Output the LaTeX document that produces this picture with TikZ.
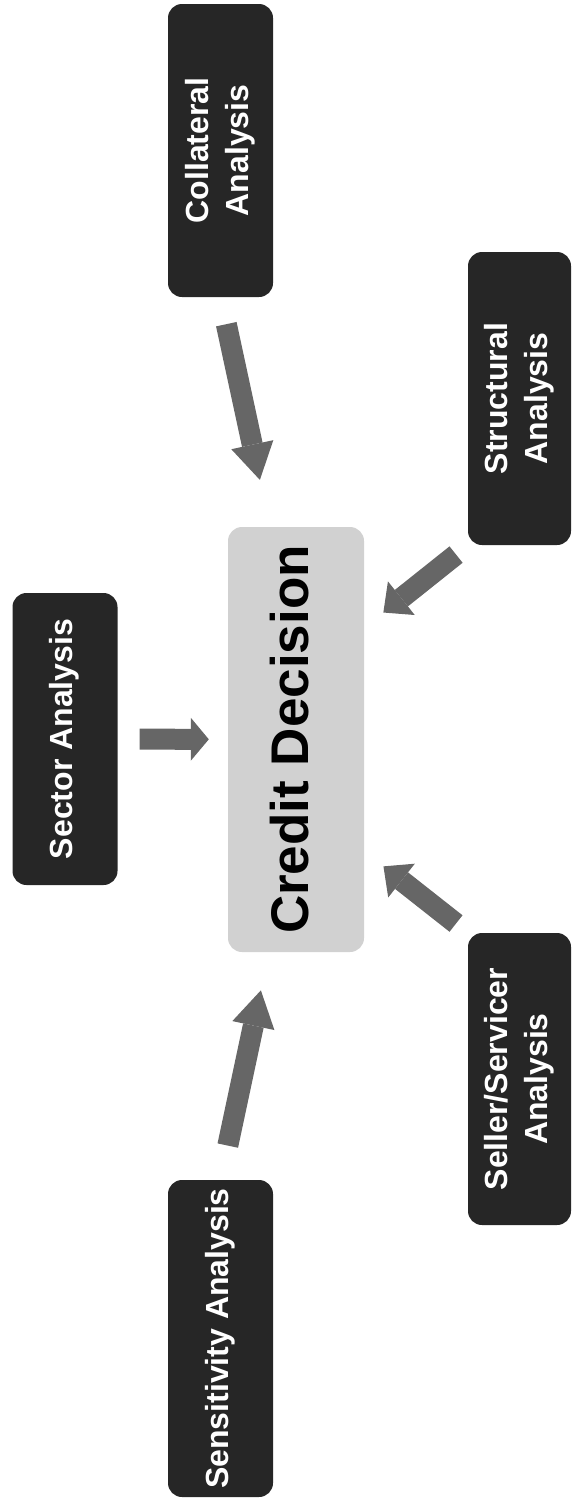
\documentclass[tikz,border=0pt]{standalone}
\usepackage{fontspec}
\setmainfont{Liberation Sans}
\usepackage{graphicx}
\usetikzlibrary{arrows.meta,calc}

\tikzset{
  sidebox/.style={fill=black!85, rounded corners=14pt, text=white, inner sep=0pt,
    font=\fontsize{32}{40}\selectfont\bfseries, minimum width=105pt},
  bigarrow/.style={line width=21pt, draw=black!60,
    -{Triangle[width=43pt,length=#1,line width=0pt]}},
}
\newcommand{\vtext}[1]{\rotatebox{90}{\begin{tabular}{@{}c@{}}#1\end{tabular}}}

\begin{document}
\begin{tikzpicture}[x=1pt,y=-1pt]
	\useasboundingbox (0,0) rectangle (573,1500);
	% centre
	\node[fill=black!18, rounded corners=14pt, inner sep=0pt, minimum width=136pt, minimum height=425pt,
	  font=\fontsize{53}{63}\selectfont\bfseries] (credit) at (296,739.5) {\vtext{Credit Decision}};
	% inputs
	\node[sidebox, minimum height=292pt] (sector) at (65,739) {\vtext{Sector Analysis}};
	\node[sidebox, minimum height=293pt] (collateral) at (220.5,150.5) {\vtext{Collateral\\Analysis}};
	\node[sidebox, minimum height=317pt] (sensitivity) at (220.5,1338.5) {\vtext{Sensitivity Analysis}};
	\node[sidebox, minimum width=103pt, minimum height=293pt] (structural) at (519.5,398.5) {\vtext{Structural\\Analysis}};
	\node[sidebox, minimum width=103pt, minimum height=292pt] (seller) at (519.5,1079) {\vtext{Seller/Servicer\\Analysis}};
	% arrows
	\draw[bigarrow=18pt, shorten <=22pt, shorten >=19pt] (sector) -- (credit);
	\draw[bigarrow=36pt, shorten <=27.6pt, shorten >=48pt] (collateral.south) -- ([xshift=-26pt]credit.north);
	\draw[bigarrow=36pt, shorten <=35pt, shorten >=39pt] (sensitivity.north) -- ([xshift=-27pt]credit.south);
	\draw[bigarrow=23pt, shorten <=15pt, shorten >=24.5pt] (structural.south west) -- ($(credit.north east)+(0,101)$);
	\draw[bigarrow=23pt, shorten <=15pt, shorten >=24.5pt] (seller.north west) -- ($(credit.south east)+(0,-101)$);
\end{tikzpicture}
\end{document}
